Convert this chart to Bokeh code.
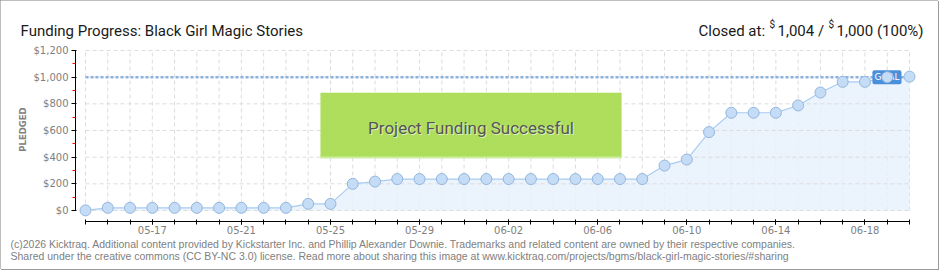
import math
from bokeh.plotting import figure
from bokeh.models import (Range1d, FixedTicker, NumeralTickFormatter, Label,
                          BoxAnnotation, LinearAxis)
from bokeh.embed import file_html
from bokeh.resources import INLINE
from bokeh.core.properties import value

# ---------------- data ----------------
dates = ["05-14", "05-15", "05-16", "05-17", "05-18", "05-19", "05-20", "05-21",
         "05-22", "05-23", "05-24", "05-25", "05-26", "05-27", "05-28", "05-29",
         "05-30", "05-31", "06-01", "06-02", "06-03", "06-04", "06-05", "06-06",
         "06-07", "06-08", "06-09", "06-10", "06-11", "06-12", "06-13", "06-14",
         "06-15", "06-16", "06-17", "06-18", "06-19", "06-20"]
pledged = [1, 20, 20, 20, 20, 20, 20, 20,
           20, 20, 50, 50, 200, 217, 236, 236,
           236, 236, 236, 236, 236, 236, 236, 236,
           236, 236, 337, 382, 588, 733, 733, 733,
           788, 885, 965, 965, 1000, 1004]
goal = 1000
y_ticks = [0, 200, 400, 600, 800, 1000, 1200]
y_minor_ticks = [100, 300, 500, 700, 900, 1100]
x_label_every = 4
x_label_first = 3

title_text = "Funding Progress: Black Girl Magic Stories"
closed_parts = ["Closed at:", "$", "1,004 /", "$", "1,000 (100%)"]
banner_text = "Project Funding Successful"
footer_lines = [
    "(c)2026 Kicktraq. Additional content provided by Kickstarter Inc. and Phillip Alexander Downie. Trademarks and related content are owned by their respective companies.",
    "Shared under the creative commons (CC BY-NC 3.0) license. Read more about sharing this image at www.kicktraq.com/projects/bgms/black-girl-magic-stories/#sharing",
]

# ---------------- layout (frame = whole canvas) ----------------
W, H = 938, 269
X0, Y0 = 85, 210          # canvas position of first day / $0
PX_DAY = 22.27
PX_USD = 160.0 / 1200.0
AXIS_X, AXIS_Y = 75, 221  # canvas position of the y axis line / x axis line

x = list(range(len(dates)))
label_idx = list(range(x_label_first, len(dates), x_label_every))

x_range = Range1d(-X0 / PX_DAY, (W - X0) / PX_DAY)
y_range = Range1d(-(H - Y0) / PX_USD, Y0 / PX_USD)

p = figure(width=W, height=H, x_range=x_range, y_range=y_range,
           output_backend="svg", toolbar_location=None,
           x_axis_type=None, y_axis_type=None, min_border=0)
p.outline_line_color = None
p.background_fill_color = "white"
p.border_fill_color = "white"
p.styles = {"outline": "1px solid #7d7d7d", "outline-offset": "-1px",
            "box-shadow": "1px 1px 0 #9a9a9a"}


def sx(X):
    return X


def sy(Y):
    return H - Y


# grid (dashed) drawn from the tick arrays
p.multi_line(xs=[[d, d] for d in x], ys=[[y_ticks[0], y_ticks[-1]]] * len(x),
             line_color="#dcdcdc", line_dash="4 3", line_width=1)

# data glyphs
p.varea(x=x, y1=[0] * len(x), y2=pledged, fill_color="#e6f0fb", fill_alpha=0.8)
p.multi_line(xs=[[x[0], x[-1]]] * len(y_ticks), ys=[[t, t] for t in y_ticks],
             line_color="#dcdcdc", line_dash="4 3", line_width=1)
p.line(x=x, y=pledged, line_color="#a9ccf1", line_width=1.2)
p.line(x=[x[0], x[-1]], y=[goal, goal], line_color="#8cb3e0",
       line_width=2.5, line_dash="3 2")
p.text(x=[x[-1]], y=[goal], text=["GOAL"], x_offset=-8,
       text_align="right", text_baseline="middle", text_color="white",
       text_font=value("DejaVu Sans"), text_font_size="9px",
       background_fill_color="#4a8fd9", padding=2, border_radius=2)
p.scatter(x=x, y=pledged, size=11, fill_color="#c5dcf6",
          line_color="#93b6de", line_width=1)

# axes placed at fixed locations inside the canvas-wide frame
xaxis = LinearAxis(ticker=FixedTicker(ticks=label_idx, minor_ticks=x),
                   major_label_overrides={i: dates[i] for i in label_idx},
                   bounds=(x[0], x[-1]),
                   fixed_location=(Y0 - AXIS_Y) / PX_USD,
                   axis_line_color="black", axis_line_width=1,
                   major_tick_in=2, major_tick_out=3,
                   minor_tick_in=2, minor_tick_out=3,
                   major_tick_line_color="black", minor_tick_line_color="black",
                   major_label_standoff=1,
                   major_label_text_font="DejaVu Sans",
                   major_label_text_font_size="10px",
                   major_label_text_color="#808080")
p.add_layout(xaxis, "below")

yaxis = LinearAxis(ticker=FixedTicker(ticks=y_ticks, minor_ticks=y_minor_ticks),
                   formatter=NumeralTickFormatter(format="$0,0"),
                   bounds=(y_ticks[0], y_ticks[-1]),
                   fixed_location=(AXIS_X - X0) / PX_DAY,
                   axis_line_color="black", axis_line_width=1,
                   major_tick_in=1, major_tick_out=4,
                   minor_tick_in=0, minor_tick_out=3,
                   major_tick_line_color="black", minor_tick_line_color="#ff0000",
                   minor_tick_line_width=1,
                   major_label_standoff=3,
                   major_label_text_font="DejaVu Sans",
                   major_label_text_font_size="10px",
                   major_label_text_color="#808080")
p.add_layout(yaxis, "left")

# banner
p.add_layout(BoxAnnotation(left=sx(320), right=sx(621), top=sy(92.3), bottom=sy(157.5),
                           left_units="screen", right_units="screen",
                           top_units="screen", bottom_units="screen",
                           fill_color="#a9dc52", fill_alpha=0.96, line_color=None,
                           hatch_pattern="right_diagonal_line", hatch_color="#b3e063",
                           hatch_alpha=0.5, hatch_scale=4, hatch_weight=1))
p.add_layout(BoxAnnotation(left=sx(320), right=sx(621), top=sy(156), bottom=sy(158),
                           left_units="screen", right_units="screen",
                           top_units="screen", bottom_units="screen",
                           fill_color="#cdeea2", fill_alpha=1, line_color=None))
p.add_layout(Label(x=sx(471.5), y=sy(128), x_units="screen", y_units="screen",
                   text=banner_text, text_align="center", text_baseline="middle",
                   text_font="Roboto", text_font_size="17px", text_color="#ffffff",
                   text_alpha=0.6))
p.add_layout(Label(x=sx(470.5), y=sy(127), x_units="screen", y_units="screen",
                   text=banner_text, text_align="center", text_baseline="middle",
                   text_font="Roboto", text_font_size="17px", text_color="#555555"))

# title and status
p.add_layout(Label(x=sx(20), y=sy(30), x_units="screen", y_units="screen",
                   text=title_text, text_align="left", text_baseline="alphabetic",
                   text_font="Roboto", text_font_size="15px", text_color="#1a1a1a"))
part_x = [698, 769, 777, 828, 836]
for txt, px in zip(closed_parts, part_x):
    small = txt == "$"
    p.add_layout(Label(x=sx(px), y=sy(24 if small else 30), x_units="screen", y_units="screen",
                       text=txt, text_align="left", text_baseline="alphabetic",
                       text_font="Roboto", text_font_size="10px" if small else "15px",
                       text_color="#1a1a1a"))

# y axis title
p.add_layout(Label(x=sx(22), y=sy(129), x_units="screen", y_units="screen",
                   text="PLEDGED", angle=math.pi / 2, text_align="center",
                   text_baseline="middle", text_font="DejaVu Sans",
                   text_font_size="8.5px", text_font_style="bold", text_color="#808080"))

# footer
for i, line in enumerate(footer_lines):
    p.add_layout(Label(x=sx(10), y=sy(243.5 + 12 * i), x_units="screen", y_units="screen",
                       text=line, text_align="left", text_baseline="middle",
                       text_font="Liberation Sans", text_font_size="10.5px",
                       text_color="#808080"))

open("out.html", "w").write(file_html(p, INLINE))
